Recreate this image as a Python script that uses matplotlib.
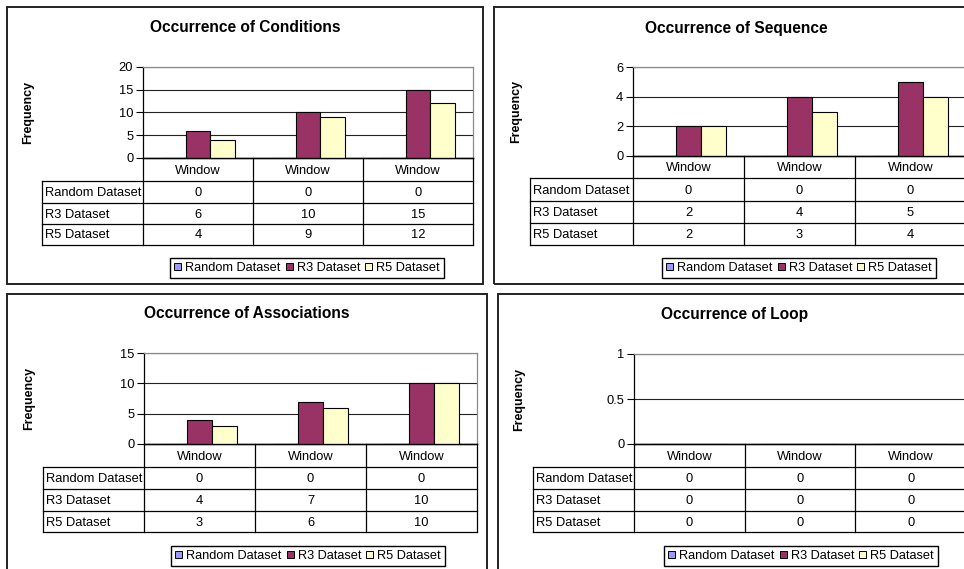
import matplotlib
matplotlib.use('Agg')
import numpy as np
import matplotlib.pyplot as plt
from matplotlib.patches import Rectangle, Patch
from matplotlib.ticker import MultipleLocator, FormatStrFormatter

plt.rcParams['font.family'] = ['Liberation Sans', 'DejaVu Sans']

W, H = 964, 569

# ---- data ----
series = ['Random Dataset', 'R3 Dataset', 'R5 Dataset']
colors = ['#9999FF', '#993366', '#FFFFCC']
categories = ['Window', 'Window', 'Window']

conditions_random = [0, 0, 0]
conditions_r3 = [6, 10, 15]
conditions_r5 = [4, 9, 12]

sequence_random = [0, 0, 0]
sequence_r3 = [2, 4, 5]
sequence_r5 = [2, 3, 4]

associations_random = [0, 0, 0]
associations_r3 = [4, 7, 10]
associations_r5 = [3, 6, 10]

loop_random = [0, 0, 0]
loop_r3 = [0, 0, 0]
loop_r5 = [0, 0, 0]

titles = ['Occurrence of Conditions', 'Occurrence of Sequence',
          'Occurrence of Associations', 'Occurrence of Loop']
panel_values = [
    [conditions_random, conditions_r3, conditions_r5],
    [sequence_random, sequence_r3, sequence_r5],
    [associations_random, associations_r3, associations_r5],
    [loop_random, loop_r3, loop_r5],
]
y_max = [20, 6, 15, 1]
y_step = [5, 2, 5, 0.5]
y_fmt = ['%d', '%d', '%d', '%g']

# ---- layout (pixels, origin top-left) ----
layouts = [
    dict(frame=(7, 7, 483, 284), title=(245, 27), plot=(143, 67, 473, 158),
         lab_left=42, rows=(181, 203, 224, 245), legend=(307, 268), ylab=28),
    dict(frame=(494, 7, 1010, 284), title=(736, 28), plot=(633, 67, 966, 156),
         lab_left=530, rows=(178, 201, 223, 245), legend=(799, 268), ylab=516),
    dict(frame=(7, 294, 487, 620), title=(247, 313), plot=(144, 353, 477, 444),
         lab_left=43, rows=(467, 489, 511, 532), legend=(308, 556), ylab=29),
    dict(frame=(498, 294, 1010, 620), title=(735, 314), plot=(634, 354, 966, 444),
         lab_left=533, rows=(467, 489, 511, 532), legend=(801, 556), ylab=519),
]


def fx(x):
    return x / W


def fy(y):
    return 1 - y / H


def box(l, t, r, b):
    return [fx(l), fy(b), (r - l) / W, (b - t) / H]


fig = plt.figure(figsize=(W / 100, H / 100), dpi=100)
fig.patch.set_facecolor('white')

bar_w = 0.227
n_cat = len(categories)

for k in range(4):
    L = layouts[k]
    values = panel_values[k]

    # panel frame
    fl, ft, fr, fb = L['frame']
    fig.patches.append(Rectangle((fx(fl), fy(fb)), (fr - fl) / W, (fb - ft) / H,
                                 transform=fig.transFigure, fill=False,
                                 edgecolor='#222222', linewidth=1.4, zorder=0))

    fig.text(fx(L['title'][0]), fy(L['title'][1]), titles[k], ha='center',
             va='center', fontsize=11.2, fontweight='bold')

    pl, pt, pr, pb = L['plot']
    ax = fig.add_axes(box(pl, pt, pr, pb))
    x = np.arange(n_cat) + 0.5
    for j, (name, col) in enumerate(zip(series, colors)):
        ax.bar(x + (j - 1) * bar_w, values[j], width=bar_w, color=col,
               edgecolor='black', linewidth=0.8, zorder=3, label=name)
    ax.set_xlim(0, n_cat)
    ax.set_ylim(0, y_max[k])
    ax.yaxis.set_major_locator(MultipleLocator(y_step[k]))
    ax.yaxis.set_major_formatter(FormatStrFormatter(y_fmt[k]))
    ax.set_xticks([])
    ax.tick_params(axis='y', direction='out', length=5, width=0.8,
                   labelsize=9.3, pad=2, color='black')
    ax.grid(axis='y', color='#222222', linewidth=0.8, zorder=1)
    for s in ('top', 'right'):
        ax.spines[s].set_color('#8a8a8a')
        ax.spines[s].set_linewidth(0.9)
    ax.spines['left'].set_linewidth(0.9)
    ax.spines['bottom'].set_linewidth(1.0)

    fig.text(fx(L['ylab']), fy((pt + pb) / 2), 'Frequency', rotation=90,
             ha='center', va='center', fontsize=9, fontweight='bold')

    # data table below the plot
    rows = L['rows']
    colw = (pr - pl) / n_cat
    lab_w = (pl - L['lab_left']) / colw
    tab = fig.add_axes(box(L['lab_left'], pb, pr, rows[-1]))
    tab.set_xlim(-lab_w, n_cat)
    tab.set_ylim(rows[-1], pb)
    tab.axis('off')
    lc = dict(color='black', linewidth=0.9, solid_capstyle='projecting',
              clip_on=False)
    # header row
    for i in range(n_cat + 1):
        tab.plot([i, i], [pb, rows[-1]], **lc)
    tab.plot([0, n_cat], [pb, pb], **lc)
    for i, c in enumerate(categories):
        tab.text(i + 0.5, (pb + rows[0]) / 2 + 1, c, ha='center', va='center',
                 fontsize=9.3)
    # series rows
    tab.plot([-lab_w, -lab_w], [rows[0], rows[-1]], **lc)
    for r in rows:
        tab.plot([-lab_w, n_cat], [r, r], **lc)
    for j, name in enumerate(series):
        yc = (rows[j] + rows[j + 1]) / 2 + 1
        tab.text(-lab_w + 3 / colw, yc, name, ha='left', va='center',
                 fontsize=9.3)
        for i in range(n_cat):
            tab.text(i + 0.5, yc, '%g' % values[j][i], ha='center',
                     va='center', fontsize=9.3)

    # legend
    handles = [Patch(facecolor=c, edgecolor='black', linewidth=0.7) for c in colors]
    leg = fig.legend(handles, series, loc='center',
                     bbox_to_anchor=(fx(L['legend'][0]), fy(L['legend'][1])),
                     ncol=3, fontsize=9.2, frameon=True, fancybox=False,
                     edgecolor='black', framealpha=1, handlelength=0.55,
                     handleheight=0.55, handletextpad=0.3, columnspacing=0.4,
                     borderpad=0.35, borderaxespad=0)
    leg.get_frame().set_linewidth(1.0)

fig.savefig('out.png', dpi=100, facecolor='white')
